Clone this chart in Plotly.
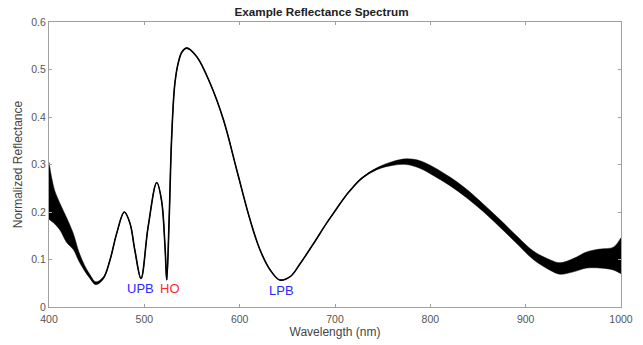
import plotly.graph_objects as go

# Data
wavelength = [400, 403, 406, 411.5, 418.5, 425.5, 431, 437, 443, 449, 457, 464, 471, 479, 485,
              490, 496.5, 504, 513, 518, 521.7, 523.5, 526, 528.7, 532, 535.7, 539.5, 544.5,
              555, 569, 583, 597, 611, 621.4, 632, 642, 653, 663, 677, 691, 700, 712, 728,
              745, 760, 775, 789, 803, 821, 838, 856, 873, 891, 908, 926, 936, 950, 964,
              978, 992, 1000]
reflectance = [0.245, 0.225, 0.21, 0.19, 0.162, 0.138, 0.108, 0.083, 0.064, 0.050, 0.061,
               0.099, 0.155, 0.200, 0.176, 0.120, 0.060, 0.169, 0.262, 0.225, 0.127, 0.057,
               0.183, 0.359, 0.470, 0.515, 0.537, 0.545, 0.527, 0.471, 0.394, 0.288, 0.183,
               0.120, 0.078, 0.057, 0.064, 0.090, 0.132, 0.176, 0.202, 0.236, 0.271, 0.292,
               0.302, 0.306, 0.300, 0.286, 0.264, 0.239, 0.208, 0.176, 0.141, 0.109, 0.088,
               0.081, 0.088, 0.099, 0.102, 0.102, 0.108]
# half-width of the noise band around the curve
noise_halfwidth = [0.06, 0.045, 0.035, 0.028, 0.026, 0.017, 0.01, 0.006, 0.004, 0.003, 0.002,
                   0.001, 0, 0, 0, 0, 0, 0, 0, 0, 0, 0, 0, 0, 0, 0, 0.001, 0.001, 0, 0, 0, 0,
                   0, 0, 0, 0, 0, 0, 0, 0, 0, 0, 0.001, 0.002, 0.004, 0.006, 0.008, 0.009,
                   0.009, 0.009, 0.008, 0.008, 0.008, 0.009, 0.011, 0.012, 0.014, 0.017,
                   0.020, 0.024, 0.038]

x_ticks = [400, 500, 600, 700, 800, 900, 1000]
y_ticks = [0, 0.1, 0.2, 0.3, 0.4, 0.5, 0.6]

labels = ["UPB", "HO", "LPB"]
label_x = [496, 527, 644]
label_y = [0.038, 0.038, 0.034]
label_colors = ["#2a2aff", "#ff2a2a", "#2a2aff"]

upper = [r + h for r, h in zip(reflectance, noise_halfwidth)]
lower = [r - h for r, h in zip(reflectance, noise_halfwidth)]

FONT = "Liberation Sans, Arial"
fig = go.Figure()
fig.add_trace(go.Scatter(x=wavelength, y=upper, mode="lines",
                         line=dict(width=0.5, color="black", shape="spline", smoothing=1.0),
                         hoverinfo="skip", showlegend=False))
fig.add_trace(go.Scatter(x=wavelength, y=lower, mode="lines", fill="tonexty",
                         fillcolor="black",
                         line=dict(width=0.5, color="black", shape="spline", smoothing=1.0),
                         hoverinfo="skip", showlegend=False))
fig.add_trace(go.Scatter(x=wavelength, y=reflectance, mode="lines",
                         line=dict(width=1.6, color="black", shape="spline", smoothing=1.0),
                         showlegend=False))

for t, lx, ly, c in zip(labels, label_x, label_y, label_colors):
    fig.add_annotation(x=lx, y=ly, text=t, showarrow=False,
                       font=dict(family=FONT, size=13, color=c))

axis_common = dict(showline=True, linecolor="#a0a0a0", linewidth=1, mirror="ticks",
                   ticks="inside", ticklen=3, tickcolor="#a0a0a0", showgrid=False,
                   zeroline=False, automargin=False,
                   tickfont=dict(family=FONT, size=10.5, color="#555555"))

fig.update_layout(
    width=643, height=345,
    margin=dict(l=49, r=22, t=22, b=38),
    paper_bgcolor="white", plot_bgcolor="white",
    title=dict(text="<b>Example Reflectance Spectrum</b>", x=0.5, xanchor="center",
               y=1 - 12 / 345, yanchor="middle",
               font=dict(family=FONT, size=11.7, color="#222222")),
    xaxis=dict(range=[400, 1000], tickvals=x_ticks, ticklabelstandoff=2,
               title=dict(text="Wavelength (nm)", standoff=4,
                          font=dict(family=FONT, size=12, color="#444444")),
               **axis_common),
    yaxis=dict(range=[0, 0.6], tickvals=y_ticks, ticktext=[str(v) for v in y_ticks],
               title=dict(text="Normalized Reflectance", standoff=6,
                          font=dict(family=FONT, size=12, color="#444444")),
               **axis_common),
)

fig.write_html("out.html")
